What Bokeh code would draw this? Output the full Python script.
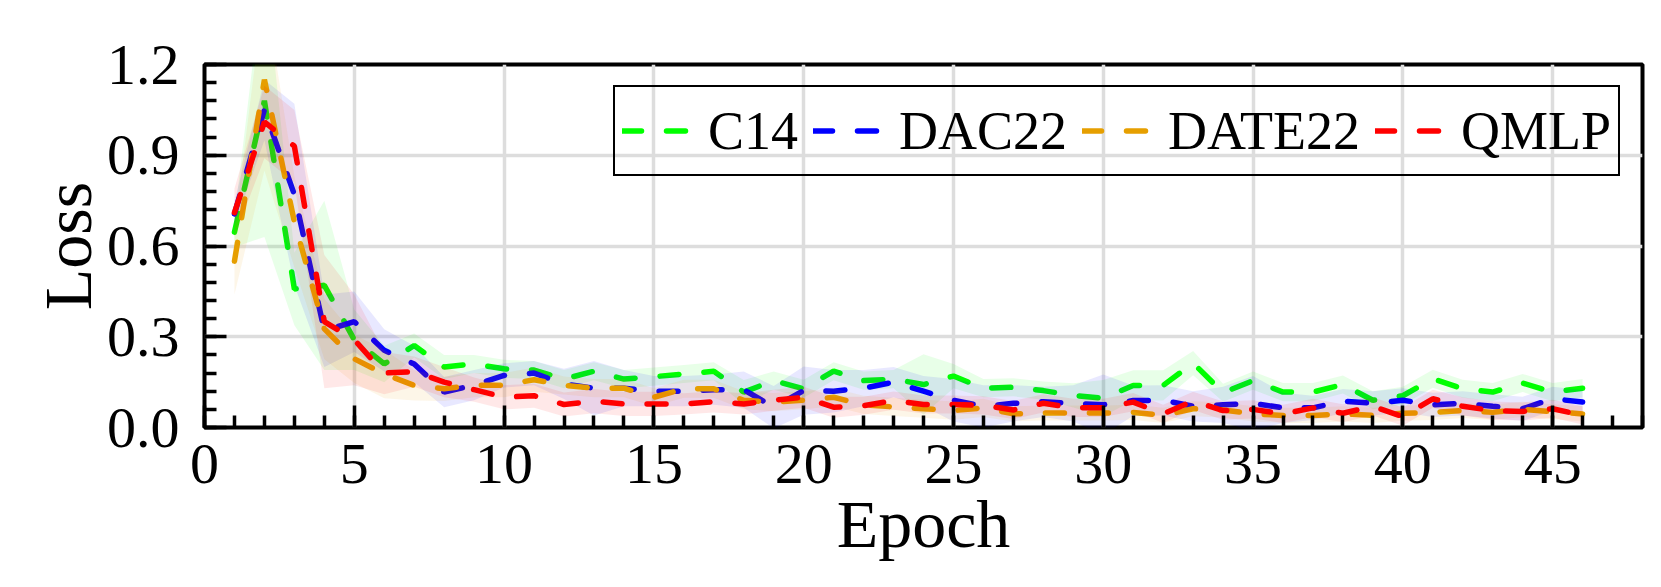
from bokeh.plotting import figure
from bokeh.models import SingleIntervalTicker, Legend, LegendItem, Range1d, NumeralTickFormatter
from bokeh.embed import file_html
from bokeh.resources import INLINE

epochs = list(range(1, 47))

c14 = [0.646, 1.08, 0.458, 0.47, 0.29, 0.21, 0.271, 0.20, 0.21, 0.194,
       0.19, 0.16, 0.186, 0.16, 0.168, 0.177, 0.186, 0.117, 0.155, 0.128,
       0.186, 0.155, 0.16, 0.142, 0.17, 0.13, 0.133, 0.122, 0.106, 0.097,
       0.139, 0.139, 0.213, 0.115, 0.155, 0.117, 0.117, 0.142, 0.09, 0.105,
       0.161, 0.128, 0.117, 0.147, 0.117, 0.13]
dac22 = [0.706, 1.05, 0.77, 0.32, 0.35, 0.255, 0.21, 0.117, 0.14, 0.172,
         0.18, 0.144, 0.13, 0.13, 0.12, 0.12, 0.125, 0.125, 0.067, 0.122,
         0.12, 0.13, 0.15, 0.12, 0.09, 0.07, 0.08, 0.085, 0.08, 0.075,
         0.089, 0.09, 0.07, 0.075, 0.08, 0.065, 0.065, 0.087, 0.08, 0.09,
         0.075, 0.08, 0.07, 0.062, 0.095, 0.084]
date22 = [0.55, 1.15, 0.68, 0.326, 0.227, 0.177, 0.139, 0.128, 0.14, 0.14,
          0.158, 0.139, 0.13, 0.13, 0.10, 0.128, 0.128, 0.09, 0.084, 0.09,
          0.10, 0.075, 0.068, 0.062, 0.056, 0.065, 0.045, 0.048, 0.048, 0.048,
          0.05, 0.04, 0.062, 0.058, 0.045, 0.04, 0.04, 0.045, 0.04, 0.047,
          0.05, 0.056, 0.05, 0.06, 0.052, 0.045]
qmlp = [0.71, 1.01, 0.93, 0.35, 0.29, 0.18, 0.185, 0.15, 0.125, 0.10,
        0.105, 0.076, 0.087, 0.078, 0.078, 0.078, 0.085, 0.078, 0.09, 0.10,
        0.067, 0.072, 0.089, 0.076, 0.076, 0.073, 0.058, 0.08, 0.065, 0.065,
        0.084, 0.045, 0.088, 0.056, 0.06, 0.045, 0.065, 0.047, 0.07, 0.036,
        0.095, 0.07, 0.056, 0.053, 0.062, 0.04]

c14_std = [0.05, 0.45, 0.12, 0.28, 0.10, 0.06, 0.04, 0.04, 0.03, 0.03,
           0.03, 0.03, 0.03, 0.03, 0.03, 0.03, 0.03, 0.04, 0.03, 0.03,
           0.03, 0.03, 0.03, 0.10, 0.04, 0.03, 0.03, 0.03, 0.04, 0.06,
           0.05, 0.05, 0.04, 0.03, 0.03, 0.03, 0.03, 0.03, 0.03, 0.03,
           0.03, 0.03, 0.03, 0.03, 0.03, 0.03]
dac22_std = [0.04, 0.10, 0.30, 0.12, 0.10, 0.07, 0.06, 0.05, 0.05, 0.04,
             0.04, 0.05, 0.09, 0.06, 0.05, 0.05, 0.05, 0.06, 0.07, 0.08,
             0.07, 0.06, 0.05, 0.05, 0.07, 0.07, 0.06, 0.05, 0.06, 0.10,
             0.05, 0.05, 0.05, 0.06, 0.09, 0.05, 0.04, 0.04, 0.04, 0.04,
             0.04, 0.04, 0.04, 0.04, 0.04, 0.04]
date22_std = [0.11, 0.30, 0.15, 0.10, 0.08, 0.08, 0.05, 0.04, 0.04, 0.04,
              0.04, 0.03, 0.03, 0.03, 0.03, 0.03, 0.03, 0.03, 0.03, 0.03,
              0.03, 0.03, 0.03, 0.03, 0.03, 0.03, 0.025, 0.025, 0.025, 0.025,
              0.025, 0.025, 0.025, 0.025, 0.025, 0.025, 0.025, 0.025, 0.025, 0.025,
              0.025, 0.025, 0.025, 0.025, 0.025, 0.025]
qmlp_std = [0.08, 0.12, 0.12, 0.22, 0.15, 0.07, 0.05, 0.05, 0.04, 0.04,
            0.04, 0.04, 0.04, 0.04, 0.04, 0.035, 0.035, 0.035, 0.035, 0.035,
            0.035, 0.03, 0.03, 0.03, 0.03, 0.03, 0.03, 0.03, 0.03, 0.03,
            0.03, 0.03, 0.03, 0.03, 0.03, 0.03, 0.03, 0.03, 0.03, 0.03,
            0.03, 0.03, 0.03, 0.03, 0.03, 0.03]

names = ["C14", "DAC22", "DATE22", "QMLP"]
colors = ["#00ff00", "#0000ff", "#e69f00", "#ff0000"]
means = [c14, dac22, date22, qmlp]
stds = [c14_std, dac22_std, date22_std, qmlp_std]

FONT = "Liberation Serif"

p = figure(width=1661, height=587, output_backend="svg", toolbar_location=None,
           x_range=Range1d(0, 48), y_range=Range1d(0, 1.2),
           min_border_left=204, min_border_right=19, min_border_top=64, min_border_bottom=160,
           background_fill_color="white", border_fill_color="white")

items = []
for name, m, s, col in zip(names, means, stds, colors):
    r = p.line(epochs, m, line_color=col, line_width=5.5, line_dash="19 25", line_cap="round")
    lo = [a - b for a, b in zip(m, s)]
    hi = [a + b for a, b in zip(m, s)]
    p.varea(x=epochs, y1=lo, y2=hi, fill_color=col, fill_alpha=0.09)
    items.append(LegendItem(label=name, renderers=[r]))

p.xaxis.ticker = SingleIntervalTicker(interval=5, num_minor_ticks=5)
p.yaxis.ticker = SingleIntervalTicker(interval=0.3, num_minor_ticks=5)
p.yaxis.formatter = NumeralTickFormatter(format="0.0")

for ax in (p.xaxis[0], p.yaxis[0]):
    ax.axis_line_color = None
    ax.major_tick_in = 22
    ax.major_tick_out = 0
    ax.minor_tick_in = 12
    ax.minor_tick_out = 0
    ax.major_tick_line_width = 3.5
    ax.minor_tick_line_width = 3.5
    ax.major_tick_line_color = "black"
    ax.minor_tick_line_color = "black"
    ax.major_label_text_font = FONT
    ax.major_label_text_font_size = "58px"
    ax.major_label_text_color = "black"
    ax.axis_label_text_font = FONT
    ax.axis_label_text_font_size = "68px"
    ax.axis_label_text_font_style = "normal"
    ax.axis_label_text_color = "black"

p.xaxis.axis_label = "Epoch"
p.yaxis.axis_label = "Loss"
p.xaxis.major_label_standoff = 17
p.xaxis.axis_label_standoff = 0
p.yaxis.major_label_standoff = 25
p.yaxis.axis_label_standoff = -2

p.xgrid.grid_line_color = "#dddddd"
p.ygrid.grid_line_color = "#dddddd"
p.xgrid.grid_line_width = 3.5
p.ygrid.grid_line_width = 3.5

p.outline_line_color = "black"
p.outline_line_width = 4
p.outline_line_alpha = 1

legend = Legend(items=items, orientation="horizontal", location=(409, 251),
                label_text_font=FONT, label_text_font_size="54px", label_text_color="black",
                glyph_width=70, glyph_height=73, label_standoff=16, spacing=15,
                padding=7, margin=0, border_line_color="black", border_line_width=2,
                border_line_alpha=1, background_fill_alpha=0)
p.add_layout(legend)

open("out.html", "w").write(file_html(p, INLINE))
